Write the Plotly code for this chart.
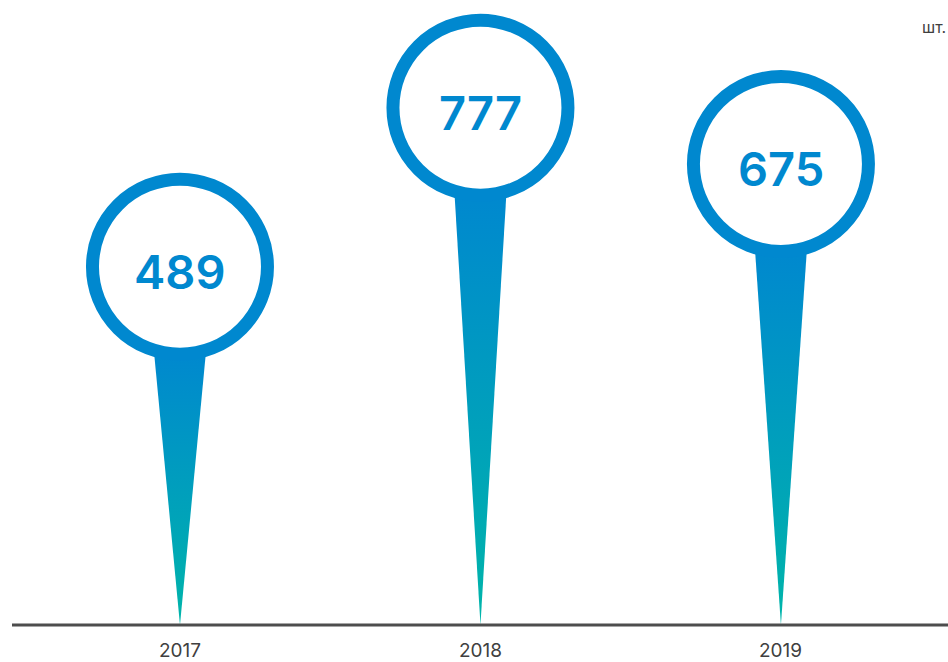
import plotly.graph_objects as go

# ---- data ----
years = ["2017", "2018", "2019"]
values = [489, 777, 675]
unit_label = "шт."

# ---- style / geometry constants ----
W, H = 948, 662
BLUE = "#0088CF"
TEAL = "#00B5AA"
BASE = -160            # value at the baseline
Y_MIN, Y_MAX = -227, 972
X_MIN, X_MAX = -0.599, 2.556
px_x = W / (X_MAX - X_MIN)
px_y = H / (Y_MAX - Y_MIN)

xs = list(range(len(years)))
fig = go.Figure()

# stems (tapered spikes with vertical gradient)
half_w = 26 / px_x
top_off = 85 / px_y
for x, v in zip(xs, values):
    top = v - top_off
    fig.add_trace(go.Scatter(
        x=[x - half_w, x + half_w, x, x - half_w],
        y=[top, top, BASE, top],
        mode="lines", fill="toself", line=dict(width=0, color=BLUE),
        fillgradient=dict(type="vertical", start=BASE, stop=top,
                          colorscale=[[0, TEAL], [1, BLUE]]),
        hoverinfo="skip", showlegend=False))

# circles
fig.add_trace(go.Scatter(
    x=xs, y=values, mode="markers",
    marker=dict(symbol="circle", size=175, color="white",
                line=dict(color=BLUE, width=13)),
    hoverinfo="skip", showlegend=False))

# value labels
for x, v in zip(xs, values):
    fig.add_annotation(x=x, y=v, text=str(v), showarrow=False, yshift=-5,
                       font=dict(family="Inter", size=47, color=BLUE, weight=600))

# baseline
fig.add_shape(type="line", xref="paper", yref="y", x0=12 / W, x1=1,
              y0=BASE, y1=BASE, line=dict(color="#4D4D4D", width=3))

# year labels
for x, yr in zip(xs, years):
    fig.add_annotation(x=x, y=BASE, text=yr, showarrow=False, yshift=-25,
                       font=dict(family="Inter", size=19, color="#404040"))

# unit label
fig.add_annotation(xref="paper", yref="paper", x=1.0, y=1 - 27 / H, text=unit_label,
                   showarrow=False, xanchor="right", yanchor="middle",
                   font=dict(family="Inter", size=16, color="#404040"))

fig.update_layout(
    width=W, height=H, margin=dict(l=0, r=0, t=0, b=0),
    paper_bgcolor="white", plot_bgcolor="white",
    xaxis=dict(range=[X_MIN, X_MAX], visible=False, fixedrange=True),
    yaxis=dict(range=[Y_MIN, Y_MAX], visible=False, fixedrange=True),
)

fig.write_html("out.html", config={"displayModeBar": False},
               post_script="document.body.style.margin='0';document.body.style.overflow='hidden';")
